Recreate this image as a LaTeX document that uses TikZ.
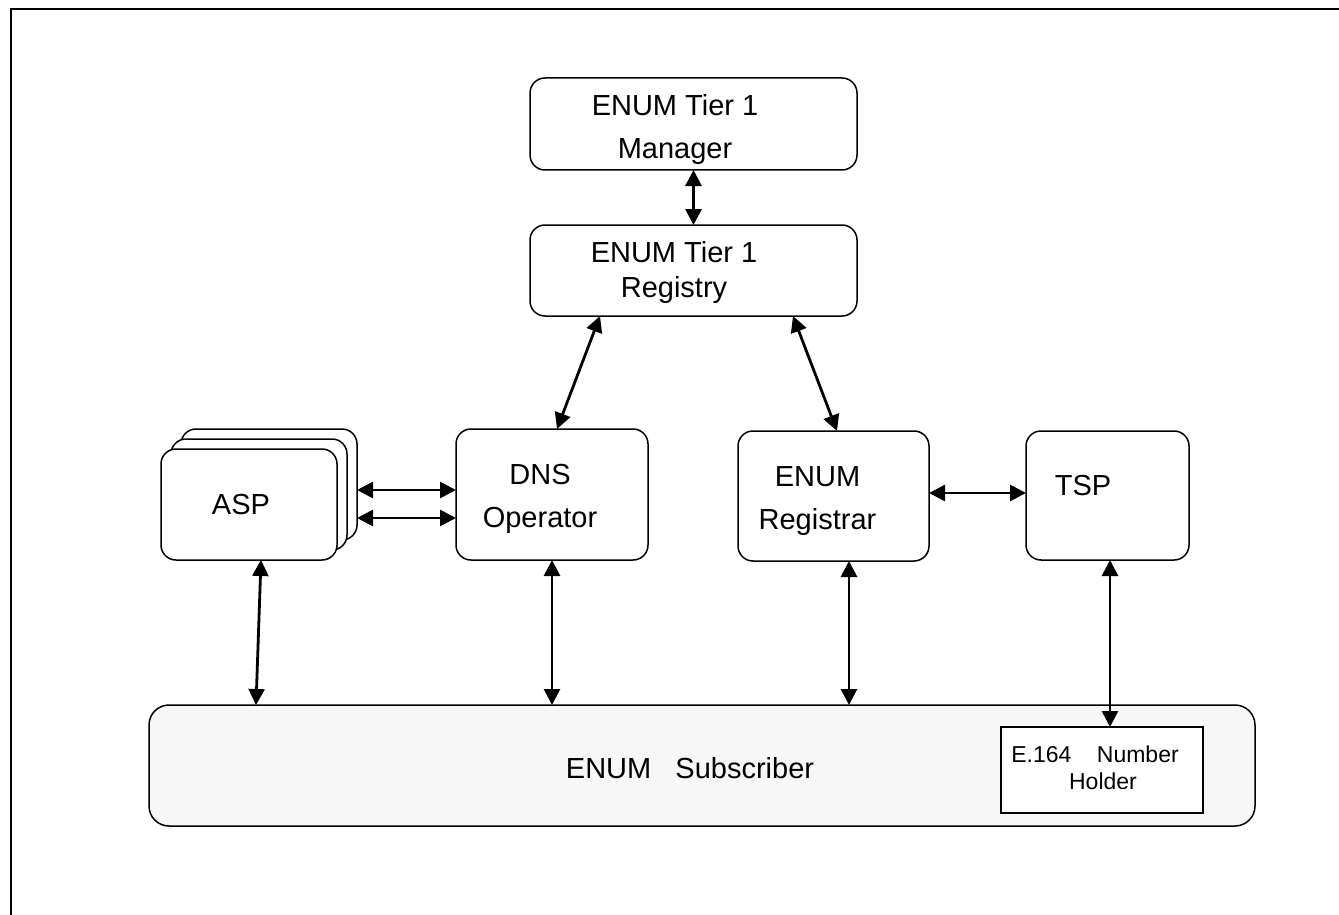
\documentclass[tikz,border=0pt]{standalone}
\usepackage{fontspec}
\setmainfont{Liberation Sans}
\usetikzlibrary{arrows.meta,calc}
\tikzset{
    every picture/.style={
        line width=0.75pt
    },
    % Style for the rounded boxes
    entity box/.style={
        draw, fill=white, rounded corners=7.5pt,
        inner sep=0pt, outer sep=0pt
    },
    % Style for the texts inside the boxes
    entity label/.style={
        font=\fontsize{14.5}{21.5}\selectfont,
        align=center, inner sep=0pt
    },
    % Style for the two-headed connectors
    link/.style={
        line width=1.4pt,
        {Triangle[length=8pt,width=8pt]}-{Triangle[length=8pt,width=8pt]}
    }
}
\definecolor{subscriberArea}{RGB}{247,247,247}

\begin{document}
\begin{tikzpicture}[x=0.5pt,y=-0.5pt]

% Set the canvas size
\useasboundingbox (0,0) rectangle (1339,915);

% Frame
\draw[line width=0.8pt] (11,915) -- (11,9) -- (1339,9);

% Tier 1 boxes
\node[entity box, minimum width=163.5pt, minimum height=46pt] (mgr) at (693.5,124) {};
\node[entity label] (mgrText) at (675,129.5) {ENUM Tier 1\\Manager};

\node[entity box, minimum width=163.5pt, minimum height=45.5pt] (reg) at (693.5,270.5) {};
\node[entity label, font=\fontsize{14.5}{17.5}\selectfont] (regText) at (674,272.5) {ENUM Tier 1\\Registry};

% ASP stack
\node[entity box, minimum width=88pt, minimum height=55.5pt] (asp3) at (269,484.5) {};
\node[entity box, minimum width=88pt, minimum height=55.5pt] (asp2) at (259,494.5) {};
\node[entity box, minimum width=88pt, minimum height=55.5pt] (asp) at (249,504.5) {};
\node[entity label] (aspText) at (241,505) {ASP};

% Middle row
\node[entity box, minimum width=96pt, minimum height=65.5pt] (dns) at (552,494.5) {};
\node[entity label] (dnsText) at (540,499) {DNS\\Operator};

\node[entity box, minimum width=95.5pt, minimum height=65pt] (rgr) at (833.5,496) {};
\node[entity label] (rgrText) at (817.5,501) {ENUM\\Registrar};

\node[entity box, minimum width=81.5pt, minimum height=64.5pt] (tsp) at (1107.5,495.5) {};
\node[entity label] (tspText) at (1083,485.5) {TSP};

% Subscriber
\node[entity box, fill=subscriberArea, rounded corners=10pt,
  minimum width=553pt, minimum height=60.5pt] (sub) at (702,765.5) {};
\node[entity label] (subText) at (690,768) {ENUM\ \ \ Subscriber};

\node[draw, fill=white, inner sep=0pt, outer sep=0pt,
  minimum width=101pt, minimum height=43pt] (e164) at (1102,770) {};
\node[entity label, font=\fontsize{11.5}{13.5}\selectfont] (e164Text) at (1095,768)
  {E.164\ \ \ \ Number\\\hspace*{8pt}Holder};

% Connector ends
\coordinate (aspFoot) at ($(asp.south)+(12,0)$);
\coordinate (rgrFoot) at ($(rgr.south)+(15.5,0)$);
\coordinate (tspFoot) at ($(tsp.south)+(2.5,0)$);

% Connectors
\draw[link] (mgr) -- (reg);
\draw[link] ($(reg.south west)+(70,0)$) -- ($(dns.north)+(5,0)$);
\draw[link] ($(reg.south east)+(-64,0)$) -- ($(rgr.north)+(3.5,0)$);

\draw[link] ([yshift=-2.75pt]asp3.east) -- ([yshift=-2.75pt]asp3.east -| dns.west);
\draw[link] ([yshift=-16.75pt]asp3.east) -- ([yshift=-16.75pt]asp3.east -| dns.west);
\draw[link] ([yshift=1.5pt]rgr.east) -- ([yshift=1.5pt]rgr.east -| tsp.west);

\draw[link] (aspFoot) -- ($(sub.north west)+(107,0)$);
\draw[link] (dns.south) -- (dns.south |- sub.north);
\draw[link] (rgrFoot) -- (rgrFoot |- sub.north);
\draw[link] (tspFoot) -- (tspFoot |- e164.north);

\end{tikzpicture}
\end{document}
